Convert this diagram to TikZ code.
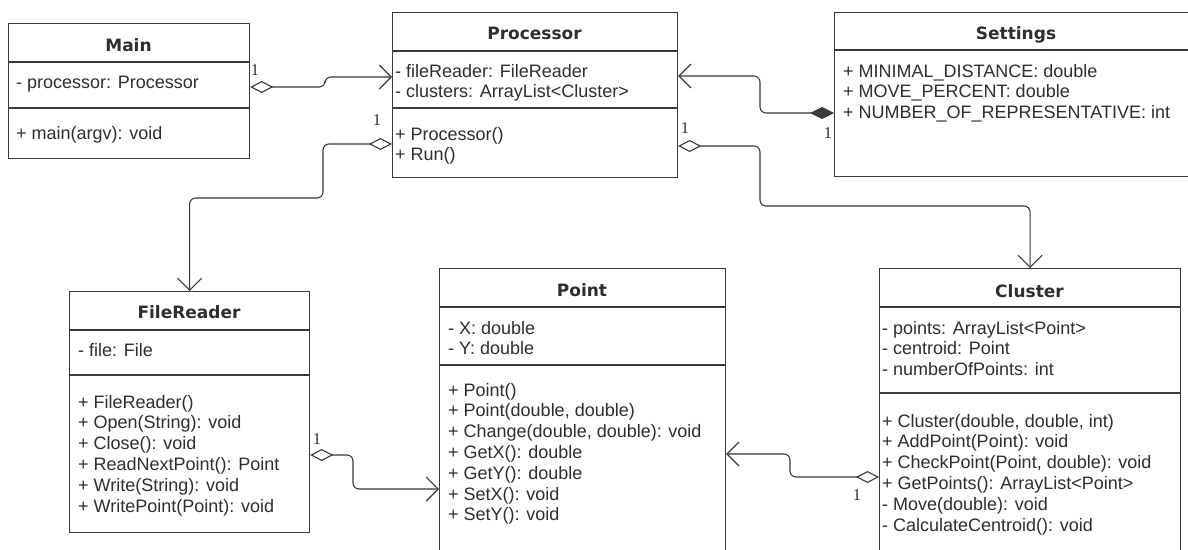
\documentclass[tikz,border=0pt]{standalone}
\usepackage{fontspec}
\setmainfont{Liberation Sans}
\newfontfamily\headfont{DejaVu Sans}
\newfontfamily\multfont{Liberation Serif}
\usetikzlibrary{arrows.meta,calc}
\definecolor{ink}{HTML}{2E2E2E}
\definecolor{edge}{HTML}{3A3A3A}

\begin{document}
\begin{tikzpicture}[x=1pt,y=-1pt,
  classbox/.style 2 args={draw=edge, line width=1.2pt, fill=white, anchor=north west,
    inner sep=0pt, minimum width=#1, minimum height=#2},
  classname/.style={font=\headfont\bfseries\fontsize{17}{20}\selectfont, text=ink,
    inner sep=0pt, anchor=base},
  member/.style={font=\fontsize{18}{20.8}\selectfont, text=ink, anchor=base west, inner sep=0pt},
  divider/.style={draw=edge, line width=1.2pt},
  assoc/.style={draw=edge, line width=1.1pt, rounded corners=6pt},
  agg/.style={assoc, {Diamond[open,length=23pt,width=12pt]}-{Straight Barb[length=12pt,width=24pt]}},
  comp/.style={assoc, {Diamond[length=24pt,width=12pt]}-{Straight Barb[length=12pt,width=24pt]}},
  mult/.style={font=\multfont\fontsize{16.5}{16.5}\selectfont, text=ink, inner sep=0pt}]

\useasboundingbox[fill=white] (0,0) rectangle (1188,549);

% ---------- class boxes ----------
\node[classbox={241}{135}] (main) at (8,23) {};
\node[classbox={285}{165}] (proc) at (392,12) {};
\node[classbox={364}{164}] (set) at (834,12) {};
\node[classbox={240}{241}] (fr) at (69,291) {};
\node[classbox={286}{300}] (pt) at (439,268) {};
\node[classbox={301}{300}] (cl) at (879,268) {};

% compartment separators
\draw[divider] (main.west |- 0,62) -- (main.east |- 0,62);
\draw[divider] (main.west |- 0,108) -- (main.east |- 0,108);
\draw[divider] (proc.west |- 0,51) -- (proc.east |- 0,51);
\draw[divider] (proc.west |- 0,108) -- (proc.east |- 0,108);
\draw[divider] (set.west |- 0,50) -- (set.east |- 0,50);
\draw[divider] (fr.west |- 0,330) -- (fr.east |- 0,330);
\draw[divider] (fr.west |- 0,375) -- (fr.east |- 0,375);
\draw[divider] (pt.west |- 0,307) -- (pt.east |- 0,307);
\draw[divider] (pt.west |- 0,365) -- (pt.east |- 0,365);
\draw[divider] (cl.west |- 0,307) -- (cl.east |- 0,307);
\draw[divider] (cl.west |- 0,393) -- (cl.east |- 0,393);

% ---------- class names ----------
\node[classname] (main-name) at (128.5,51) {Main};
\node[classname] (proc-name) at (534.5,39) {Processor};
\node[classname] (set-name) at (1016,39) {Settings};
\node[classname] (fr-name) at (189,318) {FileReader};
\node[classname] (pt-name) at (582,296) {Point};
\node[classname] (cl-name) at (1029.5,297) {Cluster};

% ---------- members ----------
\node[member] (main-a1) at (16,88) {- processor: Processor};
\node[member] (main-o1) at (16,139) {+ main(argv): void};

\foreach \txt [count=\i] in {{- fileReader: FileReader},{- clusters: ArrayList<Cluster>}}
  \node[member] (proc-a\i) at (395,{77+(\i-1)*20.8}) {\txt};
\foreach \txt [count=\i] in {{+ Processor()},{+ Run()}}
  \node[member] (proc-o\i) at (395,{140+(\i-1)*20.8}) {\txt};

\foreach \txt [count=\i] in {{+ MINIMAL\_DISTANCE: double},{+ MOVE\_PERCENT: double},
    {+ NUMBER\_OF\_REPRESENTATIVE: int}}
  \node[member] (set-a\i) at (843,{77+(\i-1)*20.8}) {\txt};

\node[member] (fr-a1) at (78,356) {- file: File};
\foreach \txt [count=\i] in {{+ FileReader()},{+ Open(String): void},{+ Close(): void},
    {+ ReadNextPoint(): Point},{+ Write(String): void},{+ WritePoint(Point): void}}
  \node[member] (fr-o\i) at (78,{408+(\i-1)*20.8}) {\txt};

\foreach \txt [count=\i] in {{- X: double},{- Y: double}}
  \node[member] (pt-a\i) at (448,{334+(\i-1)*20.8}) {\txt};
\foreach \txt [count=\i] in {{+ Point()},{+ Point(double, double)},{+ Change(double, double): void},
    {+ GetX(): double},{+ GetY(): double},{+ SetX(): void},{+ SetY(): void}}
  \node[member] (pt-o\i) at (448,{396+(\i-1)*20.8}) {\txt};

\foreach \txt [count=\i] in {{- points: ArrayList<Point>},{- centroid: Point},{- numberOfPoints: int}}
  \node[member] (cl-a\i) at (882,{334+(\i-1)*20.8}) {\txt};
\foreach \txt [count=\i] in {{+ Cluster(double, double, int)},{+ AddPoint(Point): void},
    {+ CheckPoint(Point, double): void},{+ GetPoints(): ArrayList<Point>},
    {- Move(double): void},{- CalculateCentroid(): void}}
  \node[member] (cl-o\i) at (882,{427+(\i-1)*20.8}) {\txt};

% ---------- associations ----------
\draw[agg] (main.east |- 0,87) -- (325,87) -- (325,77) -- (proc.west |- 0,77);
\draw[agg] (proc.west |- 0,144) -- (323,144) -- (323,198) -- (fr.north |- 0,198) -- (fr.north);
\draw[agg] (proc.east |- 0,146) -- (760,146) -- (760,206) -- (cl.north |- 0,206) -- (cl.north);
\draw[comp] (set.west |- 0,113) -- (760,113) -- (760,76) -- (proc.east |- 0,76);
\draw[agg] (fr.east |- 0,455) -- (353,455) -- (353,489) -- (pt.west |- 0,489);
\draw[agg] (cl.west |- 0,477) -- (790,477) -- (790,454) -- (pt.east |- 0,454);

% multiplicities
\node[mult] (m1) at (255,70) {1};
\node[mult] (m2) at (377,120) {1};
\node[mult] (m3) at (685,128) {1};
\node[mult] (m4) at (828,133) {1};
\node[mult] (m5) at (317,439) {1};
\node[mult] (m6) at (857,495) {1};
\end{tikzpicture}
\end{document}
